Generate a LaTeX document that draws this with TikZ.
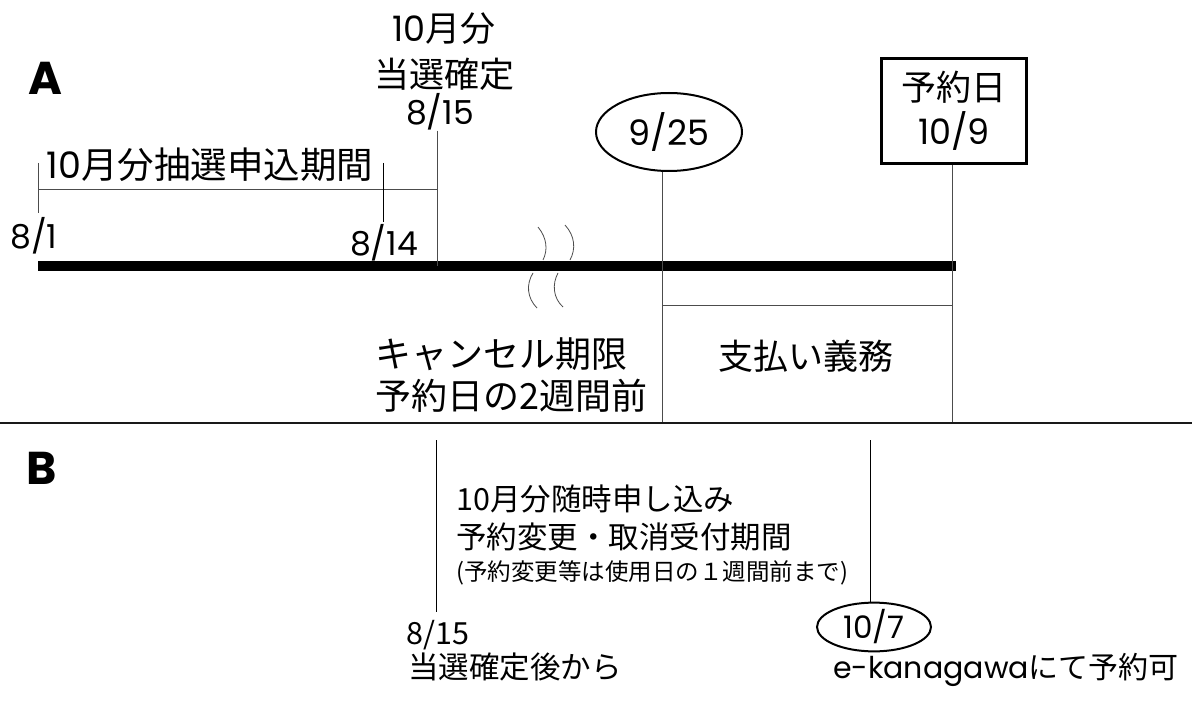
\documentclass[tikz,border=0pt]{standalone}
\usepackage{fontspec}
\setmainfont{Poppins}
\newfontfamily\jp{Noto Sans CJK JP}
\usetikzlibrary{shapes.geometric}

\begin{document}
\begin{tikzpicture}[x=1pt,y=-1pt,
    titulo/.style={inner sep=0pt,font=\fontsize{46}{50}\selectfont\bfseries},
    fecha/.style={inner sep=0pt,font=\fontsize{33}{40}\selectfont},
    texto/.style={inner sep=0pt,font=\jp\fontsize{35}{42}\selectfont},
    textob/.style={inner sep=0pt,font=\jp\fontsize{30.5}{36}\selectfont},
    fino/.style={line width=0.8pt,black!70}] %Plazos de reserva
    \useasboundingbox (0,0) rectangle (1192,703);

    % A
    \node[titulo] (A) at (45,78) {A};
    \node[texto] (mes) at (444,29) {{\rmfamily 10}月分};
    \node[texto] (sorteo) at (444,74) {当選確定};
    \node[fecha] (d815) at (440,112) {8/15};
    \node[texto,font=\jp\fontsize{36.5}{40}\selectfont] (periodo) at (210,165) {{\rmfamily 10}月分抽選申込期間};
    \node[fecha] (d81) at (34,236) {8/1};
    \node[fecha] (d814) at (384,243) {8/14};
    \node[ellipse,draw,line width=2pt,inner sep=0pt,minimum width=146,minimum height=78,
          font=\fontsize{35}{40}\selectfont] (e925) at (669,132) {9/25};
    \node[draw,line width=2.6pt,inner sep=0pt,minimum width=145,minimum height=105,align=center,
          font=\fontsize{35}{44}\selectfont] (c109) at (954,111) {{\jp 予約日}\\10/9};
    \node[texto] (pago) at (806,356) {支払い義務};
    \node[texto,font=\jp\fontsize{36}{42}\selectfont,anchor=west,align=left] (cancel) at (375,375) {キャンセル期限\\予約日の2週間前};

    \coordinate (ini) at (38,266);
    \coordinate (fin) at (956,266);
    \coordinate (m815) at (437,266);
    \coordinate (m925) at (662,423);
    \coordinate (m109) at (952,423);

    \draw[line width=10pt] (ini) -- (fin);
    \draw[fino] (d815.south -| m815) -- (m815);
    \draw[fino] (38,163) -- (38,213);
    \draw[fino] (38,189) -- (437,189);
    \draw[line width=0.8pt] (383,163) -- (383,222);
    \draw[fino] (e925.south -| m925) -- (m925);
    \draw[fino] (c109.south -| m109) -- (m109);
    \draw[fino] (662,305) -- (952,305);

    \draw[fino] (538,227) .. controls (547,238) and (548,250) .. (543,260);
    \draw[fino] (565,225) .. controls (575,236) and (576,249) .. (570,260);
    \draw[fino] (533,273) .. controls (526,284) and (527,298) .. (537,308);
    \draw[fino] (558,273) .. controls (552,284) and (553,298) .. (563,307);

    \draw[line width=2.6pt,black!90] (0,423) -- (1192,423);

    % B
    \node[titulo] (B) at (42,468) {B};
    \node[textob,anchor=west] (linea1) at (456,499) {10月分随時申し込み};
    \node[textob,anchor=west] (linea2) at (456,537) {予約変更・取消受付期間};
    \node[textob,font=\jp\fontsize{23.5}{26}\selectfont,anchor=west] (nota) at (456,573) {(予約変更等は使用日の１週間前まで)};
    \node[textob,anchor=west] (d815b) at (406,635) {8/15};
    \node[textob,anchor=west] (tras) at (408,667) {当選確定後から};
    \node[ellipse,draw,line width=2pt,inner sep=0pt,minimum width=114,minimum height=44,
          font=\fontsize{31}{36}\selectfont] (e107) at (874,627) {10/7};
    \node[fecha,font=\fontsize{30}{36}\selectfont] (ekana) at (1006,670) {e-kanagawa{\jp にて予約可}};

    \coordinate (t815) at (436,440);
    \coordinate (t107) at (870,440);
    \draw[line width=0.8pt] (t815) -- ++(0,172);
    \draw[line width=0.8pt] (t107) -- (t107 |- e107.north);
\end{tikzpicture}
\end{document}
